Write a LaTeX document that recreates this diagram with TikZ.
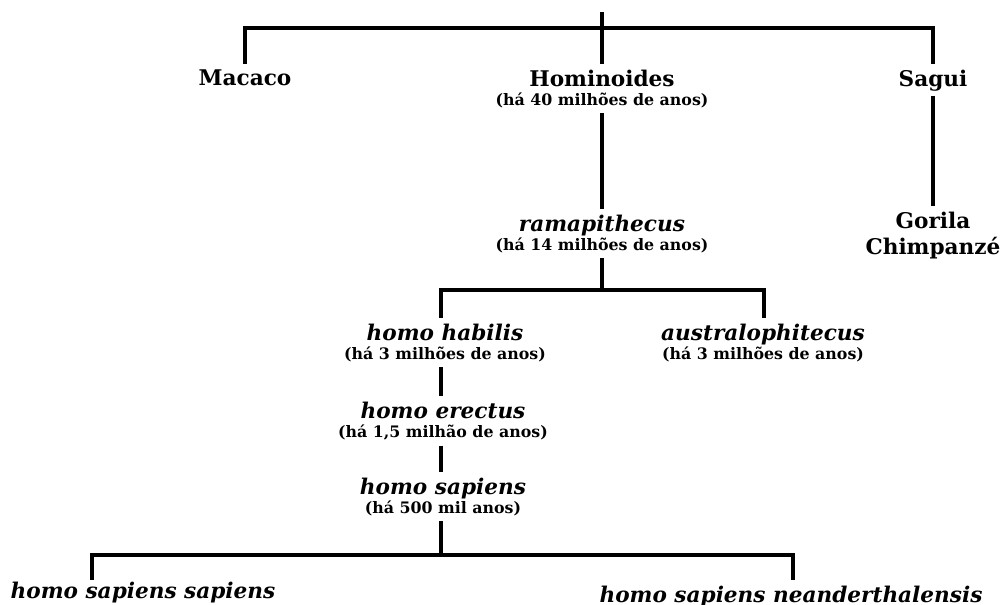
\documentclass[tikz,border=0pt]{standalone}
\usepackage{fontspec}
\setmainfont{DejaVu Serif}
\usetikzlibrary{positioning, calc}
\tikzstyle{taxon} = [font=\bfseries\fontsize{12.3}{11}\selectfont, align=center, inner sep=3pt, anchor=north]
\tikzstyle{species} = [taxon, font=\bfseries\itshape\fontsize{12.3}{11}\selectfont]
\tikzstyle{branch} = [line width=2.2pt]
\newcommand{\idade}[1]{{\upshape\fontsize{9}{10}\selectfont (há #1)}}

\begin{document}
\begin{tikzpicture}[x=0.02cm, y=-0.02cm]
\useasboundingbox (0,0) rectangle (1001,605);

% Primatas
\node (macaco) [taxon] at (245,64) {Macaco};
\node (hominoides) [taxon] at (602,64) {Hominoides\\\idade{40 milhões de anos}};
\node (sagui) [taxon] at (933,64) {Sagui};
\node (gorila) [taxon] at (933,206) {Gorila\\[4pt]Chimpanzé};

% Hominideos
\node (rama) [species] at (602,209) {ramapithecus\\\idade{14 milhões de anos}};
\node (habilis) [species] at (445,318) {homo habilis\\\idade{3 milhões de anos}};
\node (austral) [species] at (763,318) {australophitecus\\\idade{3 milhões de anos}};
\node (erectus) [species] at (443,396) {homo erectus\\\idade{1,5 milhão de anos}};
\node (sapiens) [species] at (443,472) {homo sapiens\\\idade{500 mil anos}};
\node (hss) [species] at (143,576) {homo sapiens sapiens};
\node (hsn) [species] at (791,580) {homo sapiens neanderthalensis};

% Pontos dos ramos
\coordinate (root) at (602,12);
\coordinate (rootbar) at (602,28);
\coordinate (ramabar) at (602,290);
\coordinate (sapbar) at (441,555);
\coordinate (hssdrop) at (92,580);
\coordinate (hsndrop) at (793,580);

% Ramos
\draw [branch] (root) -- (hominoides);
\draw [branch] (macaco) |- (rootbar) -| (sagui);
\draw [branch] (sagui) -- (gorila);
\draw [branch] (hominoides) -- (rama);
\draw [branch] (rama) -- (ramabar);
\draw [branch] (habilis.north -| 441,0) |- (ramabar) -| (austral.north -| 764,0);
\draw [branch] (habilis.south -| 441,0) -- (erectus.north -| 441,0);
\draw [branch] (erectus.south -| 441,0) -- (sapiens.north -| 441,0);
\draw [branch] (sapiens.south -| 441,0) -- (sapbar);
\draw [branch] (hssdrop) |- (sapbar) -| (hsndrop);

\end{tikzpicture}
\end{document}
